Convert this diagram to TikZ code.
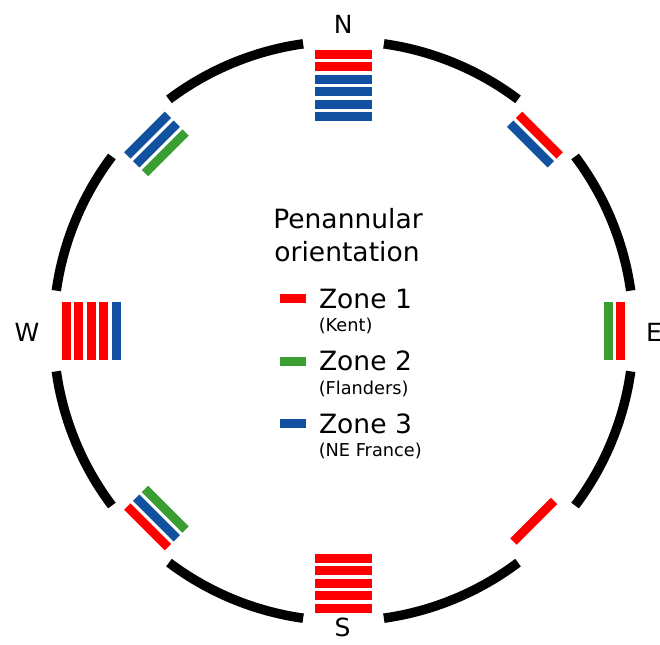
\documentclass[tikz,border=0pt]{standalone}
\usepackage{fontspec}
\setmainfont{DejaVu Sans}
\definecolor{zr}{RGB}{255,0,0}
\definecolor{zg}{RGB}{58,158,50}
\definecolor{zb}{RGB}{18,80,160}
\tikzset{
  rim/.style={line width=7.1pt, line cap=butt, black},
  compass/.style={font=\fontsize{18.75}{20}\selectfont, inner sep=0pt},
  heading/.style={font=\fontsize{19.9}{22}\selectfont, inner sep=0pt, anchor=base},
  zonetext/.style={font=\fontsize{19.9}{22}\selectfont, inner sep=0pt, anchor=base west},
  subtext/.style={font=\fontsize{13.3}{15}\selectfont, inner sep=0pt, anchor=base west},
  swatch/.style={inner sep=0pt, minimum width=19.5pt, minimum height=6.75pt, draw=none}
}
\begin{document}
\begin{tikzpicture}[x=0.75pt,y=0.75pt]
\useasboundingbox (-343.5,-313) rectangle (316.5,331);
\fill[white] (-343.5,-313) rectangle (316.5,331);
% rim arcs
\foreach \k in {0,...,7}
  \draw[rim] ({45*\k+8}:290) arc[start angle={45*\k+8}, end angle={45*\k+37}, radius=290];
% bar stacks
\foreach \ang/\rz/\lst in {90/277/{r,r,b,b,b,b}, 45/277/{r,b}, 0/277/{r,g}, -45/269/{r},
    -90/277/{r,r,r,r,r}, 225/277/{r,b,g}, 180/277/{r,r,r,r,b}, 135/277/{b,b,g}}{
  \foreach \c [count=\i from 0] in \lst {
    \fill[z\c, rotate=\ang] ({\rz-12.5*\i-4.5},-28.75) rectangle ({\rz-12.5*\i+4.5},28.75);
  }
}
% compass letters
\node[compass, anchor=base] (north) at (-0.2,297.7) {N};
\node[compass, anchor=base] (south) at (-1,-305.5) {S};
\node[compass, anchor=base] (west) at (-316.5,-10) {W};
\node[compass, anchor=base west] (east) at (302.3,-10) {E};
% legend
\node[heading] (h1) at (4.5,102.7) {Penannular};
\node[heading] (h2) at (3.5,69.3) {orientation};
\node[swatch, fill=zr] (s1) at (-50.5,32.5) {};
\node[swatch, fill=zg] (s2) at (-50.5,-30) {};
\node[swatch, fill=zb] (s3) at (-50.5,-92) {};
\node[zonetext] (z1) at (-24.7,22.7) {Zone 1};
\node[zonetext] (z2) at (-24.7,-39.7) {Zone 2};
\node[zonetext] (z3) at (-24.7,-102) {Zone 3};
\node[subtext] (k1) at (-25,-0.5) {(Kent)};
\node[subtext] (k2) at (-25,-63) {(Flanders)};
\node[subtext] (k3) at (-25,-125) {(NE France)};
\end{tikzpicture}
\end{document}
